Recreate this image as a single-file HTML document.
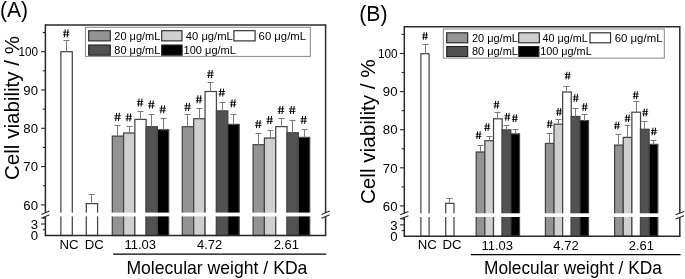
<!DOCTYPE html>
<html><head><meta charset="utf-8"><style>
html,body{margin:0;padding:0;background:#fff;width:685px;height:279px;overflow:hidden}
svg{display:block;will-change:transform;font-family:"Liberation Sans", sans-serif}
</style></head><body>
<svg width="685" height="279" viewBox="0 0 685 279" font-family='"Liberation Sans", sans-serif' fill="#000">
<rect width="685" height="279" fill="#fff"/>
<rect x="60.90" y="51.70" width="11.40" height="183.80" fill="#ffffff" stroke="#454545" stroke-width="1.25"/>
<line x1="66.50" y1="51.70" x2="66.50" y2="40.50" stroke="#7c7c7c" stroke-width="1.0"/>
<line x1="63.50" y1="40.50" x2="69.50" y2="40.50" stroke="#7c7c7c" stroke-width="1.0"/>
<path d="M65.27,29.30L64.31,37.30M68.09,29.30L67.13,37.30" stroke="#000" stroke-width="1.0" fill="none"/><path d="M63.00,32.18L69.40,32.18M63.00,34.74L69.40,34.74" stroke="#000" stroke-width="0.85" fill="none"/>
<rect x="86.30" y="203.60" width="11.30" height="31.90" fill="#ffffff" stroke="#454545" stroke-width="1.25"/>
<line x1="91.50" y1="203.60" x2="91.50" y2="194.50" stroke="#7c7c7c" stroke-width="1.0"/>
<line x1="88.50" y1="194.50" x2="94.50" y2="194.50" stroke="#7c7c7c" stroke-width="1.0"/>
<rect x="112.30" y="136.10" width="11.28" height="99.40" fill="#939393" stroke="#454545" stroke-width="1.25"/>
<line x1="117.50" y1="136.10" x2="117.50" y2="125.50" stroke="#7c7c7c" stroke-width="1.0"/>
<line x1="114.50" y1="125.50" x2="120.50" y2="125.50" stroke="#7c7c7c" stroke-width="1.0"/>
<path d="M116.61,112.90L115.65,120.90M119.43,112.90L118.47,120.90" stroke="#000" stroke-width="1.0" fill="none"/><path d="M114.34,115.78L120.74,115.78M114.34,118.34L120.74,118.34" stroke="#000" stroke-width="0.85" fill="none"/>
<rect x="123.58" y="133.00" width="11.28" height="102.50" fill="#cfcfcf" stroke="#454545" stroke-width="1.25"/>
<line x1="129.50" y1="133.00" x2="129.50" y2="126.50" stroke="#7c7c7c" stroke-width="1.0"/>
<line x1="126.50" y1="126.50" x2="132.50" y2="126.50" stroke="#7c7c7c" stroke-width="1.0"/>
<path d="M127.89,113.40L126.93,121.40M130.71,113.40L129.75,121.40" stroke="#000" stroke-width="1.0" fill="none"/><path d="M125.62,116.28L132.02,116.28M125.62,118.84L132.02,118.84" stroke="#000" stroke-width="0.85" fill="none"/>
<rect x="134.86" y="119.40" width="11.28" height="116.10" fill="#ffffff" stroke="#454545" stroke-width="1.25"/>
<line x1="140.50" y1="119.40" x2="140.50" y2="111.50" stroke="#7c7c7c" stroke-width="1.0"/>
<line x1="137.50" y1="111.50" x2="143.50" y2="111.50" stroke="#7c7c7c" stroke-width="1.0"/>
<path d="M139.17,98.60L138.21,106.60M141.99,98.60L141.03,106.60" stroke="#000" stroke-width="1.0" fill="none"/><path d="M136.90,101.48L143.30,101.48M136.90,104.04L143.30,104.04" stroke="#000" stroke-width="0.85" fill="none"/>
<rect x="146.14" y="126.70" width="11.28" height="108.80" fill="#525252" stroke="#454545" stroke-width="1.25"/>
<line x1="151.50" y1="126.70" x2="151.50" y2="114.50" stroke="#7c7c7c" stroke-width="1.0"/>
<line x1="148.50" y1="114.50" x2="154.50" y2="114.50" stroke="#7c7c7c" stroke-width="1.0"/>
<path d="M150.45,100.50L149.49,108.50M153.27,100.50L152.31,108.50" stroke="#000" stroke-width="1.0" fill="none"/><path d="M148.18,103.38L154.58,103.38M148.18,105.94L154.58,105.94" stroke="#000" stroke-width="0.85" fill="none"/>
<rect x="157.42" y="129.80" width="11.28" height="105.70" fill="#000000" stroke="#454545" stroke-width="1.25"/>
<line x1="163.50" y1="129.80" x2="163.50" y2="118.50" stroke="#7c7c7c" stroke-width="1.0"/>
<line x1="160.50" y1="118.50" x2="166.50" y2="118.50" stroke="#7c7c7c" stroke-width="1.0"/>
<path d="M161.73,105.30L160.77,113.30M164.55,105.30L163.59,113.30" stroke="#000" stroke-width="1.0" fill="none"/><path d="M159.46,108.18L165.86,108.18M159.46,110.74L165.86,110.74" stroke="#000" stroke-width="0.85" fill="none"/>
<rect x="182.30" y="126.70" width="11.38" height="108.80" fill="#939393" stroke="#454545" stroke-width="1.25"/>
<line x1="187.50" y1="126.70" x2="187.50" y2="114.50" stroke="#7c7c7c" stroke-width="1.0"/>
<line x1="184.50" y1="114.50" x2="190.50" y2="114.50" stroke="#7c7c7c" stroke-width="1.0"/>
<path d="M186.66,102.90L185.70,110.90M189.48,102.90L188.52,110.90" stroke="#000" stroke-width="1.0" fill="none"/><path d="M184.39,105.78L190.79,105.78M184.39,108.34L190.79,108.34" stroke="#000" stroke-width="0.85" fill="none"/>
<rect x="193.68" y="118.70" width="11.38" height="116.80" fill="#cfcfcf" stroke="#454545" stroke-width="1.25"/>
<line x1="199.50" y1="118.70" x2="199.50" y2="108.50" stroke="#7c7c7c" stroke-width="1.0"/>
<line x1="196.50" y1="108.50" x2="202.50" y2="108.50" stroke="#7c7c7c" stroke-width="1.0"/>
<path d="M198.04,95.30L197.08,103.30M200.86,95.30L199.90,103.30" stroke="#000" stroke-width="1.0" fill="none"/><path d="M195.77,98.18L202.17,98.18M195.77,100.74L202.17,100.74" stroke="#000" stroke-width="0.85" fill="none"/>
<rect x="205.06" y="91.50" width="11.38" height="144.00" fill="#ffffff" stroke="#454545" stroke-width="1.25"/>
<line x1="210.50" y1="91.50" x2="210.50" y2="82.50" stroke="#7c7c7c" stroke-width="1.0"/>
<line x1="207.50" y1="82.50" x2="213.50" y2="82.50" stroke="#7c7c7c" stroke-width="1.0"/>
<path d="M209.42,70.00L208.46,78.00M212.24,70.00L211.28,78.00" stroke="#000" stroke-width="1.0" fill="none"/><path d="M207.15,72.88L213.55,72.88M207.15,75.44L213.55,75.44" stroke="#000" stroke-width="0.85" fill="none"/>
<rect x="216.44" y="110.90" width="11.38" height="124.60" fill="#525252" stroke="#454545" stroke-width="1.25"/>
<line x1="222.50" y1="110.90" x2="222.50" y2="102.50" stroke="#7c7c7c" stroke-width="1.0"/>
<line x1="219.50" y1="102.50" x2="225.50" y2="102.50" stroke="#7c7c7c" stroke-width="1.0"/>
<path d="M220.80,88.60L219.84,96.60M223.62,88.60L222.66,96.60" stroke="#000" stroke-width="1.0" fill="none"/><path d="M218.53,91.48L224.93,91.48M218.53,94.04L224.93,94.04" stroke="#000" stroke-width="0.85" fill="none"/>
<rect x="227.82" y="124.40" width="11.38" height="111.10" fill="#000000" stroke="#454545" stroke-width="1.25"/>
<line x1="233.50" y1="124.40" x2="233.50" y2="114.50" stroke="#7c7c7c" stroke-width="1.0"/>
<line x1="230.50" y1="114.50" x2="236.50" y2="114.50" stroke="#7c7c7c" stroke-width="1.0"/>
<path d="M232.18,99.40L231.22,107.40M235.00,99.40L234.04,107.40" stroke="#000" stroke-width="1.0" fill="none"/><path d="M229.91,102.28L236.31,102.28M229.91,104.84L236.31,104.84" stroke="#000" stroke-width="0.85" fill="none"/>
<rect x="253.10" y="144.70" width="11.32" height="90.80" fill="#939393" stroke="#454545" stroke-width="1.25"/>
<line x1="258.50" y1="144.70" x2="258.50" y2="133.50" stroke="#7c7c7c" stroke-width="1.0"/>
<line x1="255.50" y1="133.50" x2="261.50" y2="133.50" stroke="#7c7c7c" stroke-width="1.0"/>
<path d="M257.43,120.10L256.47,128.10M260.25,120.10L259.29,128.10" stroke="#000" stroke-width="1.0" fill="none"/><path d="M255.16,122.98L261.56,122.98M255.16,125.54L261.56,125.54" stroke="#000" stroke-width="0.85" fill="none"/>
<rect x="264.42" y="138.00" width="11.32" height="97.50" fill="#cfcfcf" stroke="#454545" stroke-width="1.25"/>
<line x1="270.50" y1="138.00" x2="270.50" y2="130.50" stroke="#7c7c7c" stroke-width="1.0"/>
<line x1="267.50" y1="130.50" x2="273.50" y2="130.50" stroke="#7c7c7c" stroke-width="1.0"/>
<path d="M268.75,116.10L267.79,124.10M271.57,116.10L270.61,124.10" stroke="#000" stroke-width="1.0" fill="none"/><path d="M266.48,118.98L272.88,118.98M266.48,121.54L272.88,121.54" stroke="#000" stroke-width="0.85" fill="none"/>
<rect x="275.74" y="126.60" width="11.32" height="108.90" fill="#ffffff" stroke="#454545" stroke-width="1.25"/>
<line x1="281.50" y1="126.60" x2="281.50" y2="118.50" stroke="#7c7c7c" stroke-width="1.0"/>
<line x1="278.50" y1="118.50" x2="284.50" y2="118.50" stroke="#7c7c7c" stroke-width="1.0"/>
<path d="M280.07,106.00L279.11,114.00M282.89,106.00L281.93,114.00" stroke="#000" stroke-width="1.0" fill="none"/><path d="M277.80,108.88L284.20,108.88M277.80,111.44L284.20,111.44" stroke="#000" stroke-width="0.85" fill="none"/>
<rect x="287.06" y="132.70" width="11.32" height="102.80" fill="#525252" stroke="#454545" stroke-width="1.25"/>
<line x1="292.50" y1="132.70" x2="292.50" y2="120.50" stroke="#7c7c7c" stroke-width="1.0"/>
<line x1="289.50" y1="120.50" x2="295.50" y2="120.50" stroke="#7c7c7c" stroke-width="1.0"/>
<path d="M291.39,106.00L290.43,114.00M294.21,106.00L293.25,114.00" stroke="#000" stroke-width="1.0" fill="none"/><path d="M289.12,108.88L295.52,108.88M289.12,111.44L295.52,111.44" stroke="#000" stroke-width="0.85" fill="none"/>
<rect x="298.38" y="137.40" width="11.32" height="98.10" fill="#000000" stroke="#454545" stroke-width="1.25"/>
<line x1="304.50" y1="137.40" x2="304.50" y2="129.50" stroke="#7c7c7c" stroke-width="1.0"/>
<line x1="301.50" y1="129.50" x2="307.50" y2="129.50" stroke="#7c7c7c" stroke-width="1.0"/>
<path d="M302.71,115.80L301.75,123.80M305.53,115.80L304.57,123.80" stroke="#000" stroke-width="1.0" fill="none"/><path d="M300.44,118.68L306.84,118.68M300.44,121.24L306.84,121.24" stroke="#000" stroke-width="0.85" fill="none"/>
<rect x="46.40" y="212.60" width="278.20" height="3.80" fill="#fff"/>
<line x1="45.40" y1="25.00" x2="325.60" y2="25.00" stroke="#2a2a2a" stroke-width="1.5"/>
<line x1="44.65" y1="235.50" x2="326.35" y2="235.50" stroke="#2a2a2a" stroke-width="1.5"/>
<line x1="45.40" y1="24.25" x2="45.40" y2="212.60" stroke="#2a2a2a" stroke-width="1.5"/>
<line x1="45.40" y1="216.40" x2="45.40" y2="235.50" stroke="#2a2a2a" stroke-width="1.5"/>
<line x1="41.30" y1="214.55" x2="49.50" y2="211.05" stroke="#2a2a2a" stroke-width="1.1"/>
<line x1="41.30" y1="218.35" x2="49.50" y2="214.85" stroke="#2a2a2a" stroke-width="1.1"/>
<line x1="325.60" y1="24.25" x2="325.60" y2="212.60" stroke="#2a2a2a" stroke-width="1.5"/>
<line x1="325.60" y1="216.40" x2="325.60" y2="235.50" stroke="#2a2a2a" stroke-width="1.5"/>
<line x1="321.50" y1="214.55" x2="329.70" y2="211.05" stroke="#2a2a2a" stroke-width="1.1"/>
<line x1="321.50" y1="218.35" x2="329.70" y2="214.85" stroke="#2a2a2a" stroke-width="1.1"/>
<line x1="41.00" y1="204.90" x2="45.40" y2="204.90" stroke="#2a2a2a" stroke-width="1.1"/>
<text x="38.00" y="209.60" font-size="13.2" text-anchor="end">60</text>
<line x1="42.80" y1="185.75" x2="45.40" y2="185.75" stroke="#2a2a2a" stroke-width="1.1"/>
<line x1="41.00" y1="166.60" x2="45.40" y2="166.60" stroke="#2a2a2a" stroke-width="1.1"/>
<text x="38.00" y="171.30" font-size="13.2" text-anchor="end">70</text>
<line x1="42.80" y1="147.45" x2="45.40" y2="147.45" stroke="#2a2a2a" stroke-width="1.1"/>
<line x1="41.00" y1="128.30" x2="45.40" y2="128.30" stroke="#2a2a2a" stroke-width="1.1"/>
<text x="38.00" y="133.00" font-size="13.2" text-anchor="end">80</text>
<line x1="42.80" y1="109.15" x2="45.40" y2="109.15" stroke="#2a2a2a" stroke-width="1.1"/>
<line x1="41.00" y1="90.00" x2="45.40" y2="90.00" stroke="#2a2a2a" stroke-width="1.1"/>
<text x="38.00" y="94.70" font-size="13.2" text-anchor="end">90</text>
<line x1="42.80" y1="70.85" x2="45.40" y2="70.85" stroke="#2a2a2a" stroke-width="1.1"/>
<line x1="41.00" y1="51.70" x2="45.40" y2="51.70" stroke="#2a2a2a" stroke-width="1.1"/>
<text x="38.00" y="56.40" font-size="13.2" text-anchor="end" textLength="19.5" lengthAdjust="spacingAndGlyphs">100</text>
<line x1="42.80" y1="32.55" x2="45.40" y2="32.55" stroke="#2a2a2a" stroke-width="1.1"/>
<line x1="42.80" y1="229.75" x2="45.40" y2="229.75" stroke="#2a2a2a" stroke-width="1.1"/>
<line x1="41.00" y1="224.01" x2="45.40" y2="224.01" stroke="#2a2a2a" stroke-width="1.1"/>
<line x1="42.80" y1="218.26" x2="45.40" y2="218.26" stroke="#2a2a2a" stroke-width="1.1"/>
<text x="38.00" y="240.20" font-size="13.2" text-anchor="end">0</text>
<text x="38.00" y="228.71" font-size="13.2" text-anchor="end">3</text>
<text x="69.00" y="248.80" font-size="13.2" text-anchor="middle">NC</text>
<text x="94.20" y="248.80" font-size="13.2" text-anchor="middle">DC</text>
<text x="140.20" y="249.00" font-size="13.0" text-anchor="middle">11.03</text>
<text x="209.70" y="249.00" font-size="13.0" text-anchor="middle">4.72</text>
<text x="286.30" y="249.00" font-size="13.0" text-anchor="middle">2.61</text>
<line x1="113.20" y1="254.10" x2="326.20" y2="254.10" stroke="#000" stroke-width="1.4"/>
<text x="126.40" y="273.50" font-size="18.5" textLength="181" lengthAdjust="spacingAndGlyphs">Molecular weight / KDa</text>
<text transform="translate(19.00,180.00) rotate(-90)" font-size="20.5" textLength="144" lengthAdjust="spacingAndGlyphs">Cell viability / %</text>
<text x="0.00" y="16.50" font-size="22" textLength="28.0" lengthAdjust="spacingAndGlyphs">(A)</text>
<rect x="85.40" y="27.30" width="224.90" height="29.10" fill="#fff" stroke="#888" stroke-width="1.0"/>
<rect x="88.70" y="30.70" width="21.60" height="10.20" fill="#939393" stroke="#222" stroke-width="1.1"/>
<text x="114.30" y="39.50" font-size="10.6" textLength="46" lengthAdjust="spacingAndGlyphs">20 μg/mL</text>
<rect x="161.70" y="30.70" width="20.30" height="10.20" fill="#cfcfcf" stroke="#222" stroke-width="1.1"/>
<text x="185.80" y="39.50" font-size="10.6" textLength="47" lengthAdjust="spacingAndGlyphs">40 μg/mL</text>
<rect x="233.90" y="30.70" width="21.20" height="10.20" fill="#ffffff" stroke="#222" stroke-width="1.1"/>
<text x="258.60" y="39.50" font-size="10.6" textLength="47.4" lengthAdjust="spacingAndGlyphs">60 μg/mL</text>
<rect x="88.70" y="45.00" width="21.60" height="10.20" fill="#525252" stroke="#222" stroke-width="1.1"/>
<text x="114.30" y="53.80" font-size="10.6" textLength="46" lengthAdjust="spacingAndGlyphs">80 μg/mL</text>
<rect x="161.70" y="45.00" width="20.40" height="10.20" fill="#000000" stroke="#222" stroke-width="1.1"/>
<text x="183.60" y="53.80" font-size="10.6" textLength="52.3" lengthAdjust="spacingAndGlyphs">100 μg/mL</text>
<rect x="420.90" y="53.70" width="8.20" height="182.60" fill="#ffffff" stroke="#454545" stroke-width="1.25"/>
<line x1="425.50" y1="53.70" x2="425.50" y2="44.50" stroke="#7c7c7c" stroke-width="1.0"/>
<line x1="422.50" y1="44.50" x2="428.50" y2="44.50" stroke="#7c7c7c" stroke-width="1.0"/>
<path d="M424.18,32.20L423.27,39.80M426.73,32.20L425.82,39.80" stroke="#000" stroke-width="1.0" fill="none"/><path d="M422.10,34.94L427.90,34.94M422.10,37.37L427.90,37.37" stroke="#000" stroke-width="0.85" fill="none"/>
<rect x="445.70" y="203.40" width="8.30" height="32.90" fill="#ffffff" stroke="#454545" stroke-width="1.25"/>
<line x1="449.50" y1="203.40" x2="449.50" y2="198.50" stroke="#7c7c7c" stroke-width="1.0"/>
<line x1="446.50" y1="198.50" x2="452.50" y2="198.50" stroke="#7c7c7c" stroke-width="1.0"/>
<rect x="476.20" y="152.00" width="8.66" height="84.30" fill="#939393" stroke="#454545" stroke-width="1.25"/>
<line x1="480.50" y1="152.00" x2="480.50" y2="145.50" stroke="#7c7c7c" stroke-width="1.0"/>
<line x1="477.50" y1="145.50" x2="483.50" y2="145.50" stroke="#7c7c7c" stroke-width="1.0"/>
<path d="M477.71,131.40L476.80,139.00M480.26,131.40L479.35,139.00" stroke="#000" stroke-width="1.0" fill="none"/><path d="M475.63,134.14L481.43,134.14M475.63,136.57L481.43,136.57" stroke="#000" stroke-width="0.85" fill="none"/>
<rect x="484.86" y="140.70" width="8.66" height="95.60" fill="#cfcfcf" stroke="#454545" stroke-width="1.25"/>
<line x1="489.50" y1="140.70" x2="489.50" y2="136.50" stroke="#7c7c7c" stroke-width="1.0"/>
<line x1="486.50" y1="136.50" x2="492.50" y2="136.50" stroke="#7c7c7c" stroke-width="1.0"/>
<path d="M486.37,123.30L485.46,130.90M488.92,123.30L488.01,130.90" stroke="#000" stroke-width="1.0" fill="none"/><path d="M484.29,126.04L490.09,126.04M484.29,128.47L490.09,128.47" stroke="#000" stroke-width="0.85" fill="none"/>
<rect x="493.52" y="118.80" width="8.66" height="117.50" fill="#ffffff" stroke="#454545" stroke-width="1.25"/>
<line x1="497.50" y1="118.80" x2="497.50" y2="112.50" stroke="#7c7c7c" stroke-width="1.0"/>
<line x1="494.50" y1="112.50" x2="500.50" y2="112.50" stroke="#7c7c7c" stroke-width="1.0"/>
<path d="M495.73,100.90L494.82,108.50M498.28,100.90L497.37,108.50" stroke="#000" stroke-width="1.0" fill="none"/><path d="M493.65,103.64L499.45,103.64M493.65,106.07L499.45,106.07" stroke="#000" stroke-width="0.85" fill="none"/>
<rect x="502.18" y="129.90" width="8.66" height="106.40" fill="#525252" stroke="#454545" stroke-width="1.25"/>
<line x1="506.50" y1="129.90" x2="506.50" y2="125.50" stroke="#7c7c7c" stroke-width="1.0"/>
<line x1="503.50" y1="125.50" x2="509.50" y2="125.50" stroke="#7c7c7c" stroke-width="1.0"/>
<path d="M506.59,113.00L505.68,120.60M509.14,113.00L508.23,120.60" stroke="#000" stroke-width="1.0" fill="none"/><path d="M504.51,115.74L510.31,115.74M504.51,118.17L510.31,118.17" stroke="#000" stroke-width="0.85" fill="none"/>
<rect x="510.84" y="133.90" width="8.66" height="102.40" fill="#000000" stroke="#454545" stroke-width="1.25"/>
<line x1="515.50" y1="133.90" x2="515.50" y2="129.50" stroke="#7c7c7c" stroke-width="1.0"/>
<line x1="512.50" y1="129.50" x2="518.50" y2="129.50" stroke="#7c7c7c" stroke-width="1.0"/>
<path d="M514.05,114.40L513.14,122.00M516.60,114.40L515.69,122.00" stroke="#000" stroke-width="1.0" fill="none"/><path d="M511.97,117.14L517.77,117.14M511.97,119.57L517.77,119.57" stroke="#000" stroke-width="0.85" fill="none"/>
<rect x="545.40" y="143.40" width="8.62" height="92.90" fill="#939393" stroke="#454545" stroke-width="1.25"/>
<line x1="549.50" y1="143.40" x2="549.50" y2="133.50" stroke="#7c7c7c" stroke-width="1.0"/>
<line x1="546.50" y1="133.50" x2="552.50" y2="133.50" stroke="#7c7c7c" stroke-width="1.0"/>
<path d="M548.89,120.20L547.98,127.80M551.44,120.20L550.53,127.80" stroke="#000" stroke-width="1.0" fill="none"/><path d="M546.81,122.94L552.61,122.94M546.81,125.37L552.61,125.37" stroke="#000" stroke-width="0.85" fill="none"/>
<rect x="554.02" y="124.20" width="8.62" height="112.10" fill="#cfcfcf" stroke="#454545" stroke-width="1.25"/>
<line x1="558.50" y1="124.20" x2="558.50" y2="119.50" stroke="#7c7c7c" stroke-width="1.0"/>
<line x1="555.50" y1="119.50" x2="561.50" y2="119.50" stroke="#7c7c7c" stroke-width="1.0"/>
<path d="M558.21,108.10L557.30,115.70M560.76,108.10L559.85,115.70" stroke="#000" stroke-width="1.0" fill="none"/><path d="M556.13,110.84L561.93,110.84M556.13,113.27L561.93,113.27" stroke="#000" stroke-width="0.85" fill="none"/>
<rect x="562.64" y="92.00" width="8.62" height="144.30" fill="#ffffff" stroke="#454545" stroke-width="1.25"/>
<line x1="566.50" y1="92.00" x2="566.50" y2="86.50" stroke="#7c7c7c" stroke-width="1.0"/>
<line x1="563.50" y1="86.50" x2="569.50" y2="86.50" stroke="#7c7c7c" stroke-width="1.0"/>
<path d="M566.93,71.80L566.02,79.40M569.48,71.80L568.57,79.40" stroke="#000" stroke-width="1.0" fill="none"/><path d="M564.85,74.54L570.65,74.54M564.85,76.97L570.65,76.97" stroke="#000" stroke-width="0.85" fill="none"/>
<rect x="571.26" y="116.50" width="8.62" height="119.80" fill="#525252" stroke="#454545" stroke-width="1.25"/>
<line x1="575.50" y1="116.50" x2="575.50" y2="108.50" stroke="#7c7c7c" stroke-width="1.0"/>
<line x1="572.50" y1="108.50" x2="578.50" y2="108.50" stroke="#7c7c7c" stroke-width="1.0"/>
<path d="M574.95,94.20L574.04,101.80M577.50,94.20L576.59,101.80" stroke="#000" stroke-width="1.0" fill="none"/><path d="M572.87,96.94L578.67,96.94M572.87,99.37L578.67,99.37" stroke="#000" stroke-width="0.85" fill="none"/>
<rect x="579.88" y="120.60" width="8.62" height="115.70" fill="#000000" stroke="#454545" stroke-width="1.25"/>
<line x1="584.50" y1="120.60" x2="584.50" y2="114.50" stroke="#7c7c7c" stroke-width="1.0"/>
<line x1="581.50" y1="114.50" x2="587.50" y2="114.50" stroke="#7c7c7c" stroke-width="1.0"/>
<path d="M583.87,103.20L582.96,110.80M586.42,103.20L585.51,110.80" stroke="#000" stroke-width="1.0" fill="none"/><path d="M581.79,105.94L587.59,105.94M581.79,108.37L587.59,108.37" stroke="#000" stroke-width="0.85" fill="none"/>
<rect x="614.60" y="145.10" width="8.64" height="91.20" fill="#939393" stroke="#454545" stroke-width="1.25"/>
<line x1="618.50" y1="145.10" x2="618.50" y2="134.50" stroke="#7c7c7c" stroke-width="1.0"/>
<line x1="615.50" y1="134.50" x2="621.50" y2="134.50" stroke="#7c7c7c" stroke-width="1.0"/>
<path d="M616.20,121.70L615.29,129.30M618.75,121.70L617.84,129.30" stroke="#000" stroke-width="1.0" fill="none"/><path d="M614.12,124.44L619.92,124.44M614.12,126.87L619.92,126.87" stroke="#000" stroke-width="0.85" fill="none"/>
<rect x="623.24" y="137.40" width="8.64" height="98.90" fill="#cfcfcf" stroke="#454545" stroke-width="1.25"/>
<line x1="627.50" y1="137.40" x2="627.50" y2="125.50" stroke="#7c7c7c" stroke-width="1.0"/>
<line x1="624.50" y1="125.50" x2="630.50" y2="125.50" stroke="#7c7c7c" stroke-width="1.0"/>
<path d="M626.74,114.60L625.83,122.20M629.29,114.60L628.38,122.20" stroke="#000" stroke-width="1.0" fill="none"/><path d="M624.66,117.34L630.46,117.34M624.66,119.77L630.46,119.77" stroke="#000" stroke-width="0.85" fill="none"/>
<rect x="631.88" y="112.20" width="8.64" height="124.10" fill="#ffffff" stroke="#454545" stroke-width="1.25"/>
<line x1="636.50" y1="112.20" x2="636.50" y2="101.50" stroke="#7c7c7c" stroke-width="1.0"/>
<line x1="633.50" y1="101.50" x2="639.50" y2="101.50" stroke="#7c7c7c" stroke-width="1.0"/>
<path d="M634.88,91.30L633.97,98.90M637.43,91.30L636.52,98.90" stroke="#000" stroke-width="1.0" fill="none"/><path d="M632.80,94.04L638.60,94.04M632.80,96.47L638.60,96.47" stroke="#000" stroke-width="0.85" fill="none"/>
<rect x="640.52" y="129.30" width="8.64" height="107.00" fill="#525252" stroke="#454545" stroke-width="1.25"/>
<line x1="644.50" y1="129.30" x2="644.50" y2="121.50" stroke="#7c7c7c" stroke-width="1.0"/>
<line x1="641.50" y1="121.50" x2="647.50" y2="121.50" stroke="#7c7c7c" stroke-width="1.0"/>
<path d="M644.42,108.70L643.51,116.30M646.97,108.70L646.06,116.30" stroke="#000" stroke-width="1.0" fill="none"/><path d="M642.34,111.44L648.14,111.44M642.34,113.87L648.14,113.87" stroke="#000" stroke-width="0.85" fill="none"/>
<rect x="649.16" y="144.40" width="8.64" height="91.90" fill="#000000" stroke="#454545" stroke-width="1.25"/>
<line x1="653.50" y1="144.40" x2="653.50" y2="140.50" stroke="#7c7c7c" stroke-width="1.0"/>
<line x1="650.50" y1="140.50" x2="656.50" y2="140.50" stroke="#7c7c7c" stroke-width="1.0"/>
<path d="M653.06,127.70L652.15,135.30M655.61,127.70L654.70,135.30" stroke="#000" stroke-width="1.0" fill="none"/><path d="M650.98,130.44L656.78,130.44M650.98,132.87L656.78,132.87" stroke="#000" stroke-width="0.85" fill="none"/>
<rect x="405.30" y="213.30" width="273.50" height="3.70" fill="#fff"/>
<line x1="404.30" y1="26.80" x2="679.80" y2="26.80" stroke="#2a2a2a" stroke-width="1.5"/>
<line x1="403.55" y1="236.30" x2="680.55" y2="236.30" stroke="#2a2a2a" stroke-width="1.5"/>
<line x1="404.30" y1="26.05" x2="404.30" y2="213.30" stroke="#2a2a2a" stroke-width="1.5"/>
<line x1="404.30" y1="217.00" x2="404.30" y2="236.30" stroke="#2a2a2a" stroke-width="1.5"/>
<line x1="400.15" y1="214.85" x2="408.45" y2="211.55" stroke="#2a2a2a" stroke-width="1.1"/>
<line x1="400.15" y1="218.95" x2="408.45" y2="215.65" stroke="#2a2a2a" stroke-width="1.1"/>
<line x1="679.80" y1="26.05" x2="679.80" y2="213.30" stroke="#2a2a2a" stroke-width="1.5"/>
<line x1="679.80" y1="217.00" x2="679.80" y2="236.30" stroke="#2a2a2a" stroke-width="1.5"/>
<line x1="675.65" y1="214.85" x2="683.95" y2="211.55" stroke="#2a2a2a" stroke-width="1.1"/>
<line x1="675.65" y1="218.95" x2="683.95" y2="215.65" stroke="#2a2a2a" stroke-width="1.1"/>
<line x1="399.90" y1="205.90" x2="404.30" y2="205.90" stroke="#2a2a2a" stroke-width="1.1"/>
<text x="397.50" y="210.60" font-size="13.2" text-anchor="end">60</text>
<line x1="401.70" y1="186.85" x2="404.30" y2="186.85" stroke="#2a2a2a" stroke-width="1.1"/>
<line x1="399.90" y1="167.80" x2="404.30" y2="167.80" stroke="#2a2a2a" stroke-width="1.1"/>
<text x="397.50" y="172.50" font-size="13.2" text-anchor="end">70</text>
<line x1="401.70" y1="148.75" x2="404.30" y2="148.75" stroke="#2a2a2a" stroke-width="1.1"/>
<line x1="399.90" y1="129.70" x2="404.30" y2="129.70" stroke="#2a2a2a" stroke-width="1.1"/>
<text x="397.50" y="134.40" font-size="13.2" text-anchor="end">80</text>
<line x1="401.70" y1="110.65" x2="404.30" y2="110.65" stroke="#2a2a2a" stroke-width="1.1"/>
<line x1="399.90" y1="91.60" x2="404.30" y2="91.60" stroke="#2a2a2a" stroke-width="1.1"/>
<text x="397.50" y="96.30" font-size="13.2" text-anchor="end">90</text>
<line x1="401.70" y1="72.55" x2="404.30" y2="72.55" stroke="#2a2a2a" stroke-width="1.1"/>
<line x1="399.90" y1="53.50" x2="404.30" y2="53.50" stroke="#2a2a2a" stroke-width="1.1"/>
<text x="397.50" y="58.20" font-size="13.2" text-anchor="end" textLength="19.5" lengthAdjust="spacingAndGlyphs">100</text>
<line x1="401.70" y1="34.45" x2="404.30" y2="34.45" stroke="#2a2a2a" stroke-width="1.1"/>
<line x1="401.70" y1="230.59" x2="404.30" y2="230.59" stroke="#2a2a2a" stroke-width="1.1"/>
<line x1="399.90" y1="224.87" x2="404.30" y2="224.87" stroke="#2a2a2a" stroke-width="1.1"/>
<line x1="401.70" y1="219.16" x2="404.30" y2="219.16" stroke="#2a2a2a" stroke-width="1.1"/>
<text x="397.50" y="241.00" font-size="13.2" text-anchor="end">0</text>
<text x="397.50" y="229.57" font-size="13.2" text-anchor="end">3</text>
<text x="427.20" y="249.00" font-size="13.2" text-anchor="middle">NC</text>
<text x="452.00" y="249.00" font-size="13.2" text-anchor="middle">DC</text>
<text x="497.30" y="249.50" font-size="13.0" text-anchor="middle">11.03</text>
<text x="566.00" y="249.50" font-size="13.0" text-anchor="middle">4.72</text>
<text x="641.40" y="249.50" font-size="13.0" text-anchor="middle">2.61</text>
<line x1="470.80" y1="254.60" x2="680.60" y2="254.60" stroke="#000" stroke-width="1.4"/>
<text x="484.00" y="273.80" font-size="18.3" textLength="177.8" lengthAdjust="spacingAndGlyphs">Molecular weight / KDa</text>
<text transform="translate(375.40,204.10) rotate(-90)" font-size="20.2" textLength="144.8" lengthAdjust="spacingAndGlyphs">Cell viability / %</text>
<text x="359.30" y="20.60" font-size="22" textLength="28.3" lengthAdjust="spacingAndGlyphs">(B)</text>
<rect x="443.30" y="29.00" width="221.00" height="29.10" fill="#fff" stroke="#888" stroke-width="1.0"/>
<rect x="446.70" y="32.80" width="21.00" height="10.00" fill="#939393" stroke="#222" stroke-width="1.1"/>
<text x="471.90" y="41.60" font-size="10.6" textLength="46" lengthAdjust="spacingAndGlyphs">20 μg/mL</text>
<rect x="518.70" y="32.80" width="20.60" height="10.00" fill="#cfcfcf" stroke="#222" stroke-width="1.1"/>
<text x="542.40" y="41.60" font-size="10.6" textLength="45.3" lengthAdjust="spacingAndGlyphs">40 μg/mL</text>
<rect x="590.00" y="32.80" width="20.60" height="10.00" fill="#ffffff" stroke="#222" stroke-width="1.1"/>
<text x="614.70" y="41.60" font-size="10.6" textLength="47.8" lengthAdjust="spacingAndGlyphs">60 μg/mL</text>
<rect x="446.70" y="46.50" width="21.00" height="10.00" fill="#525252" stroke="#222" stroke-width="1.1"/>
<text x="471.90" y="55.30" font-size="10.6" textLength="46" lengthAdjust="spacingAndGlyphs">80 μg/mL</text>
<rect x="518.70" y="46.50" width="20.20" height="10.00" fill="#000000" stroke="#222" stroke-width="1.1"/>
<text x="540.20" y="55.30" font-size="10.6" textLength="51.5" lengthAdjust="spacingAndGlyphs">100 μg/mL</text>
</svg>
</body></html>
